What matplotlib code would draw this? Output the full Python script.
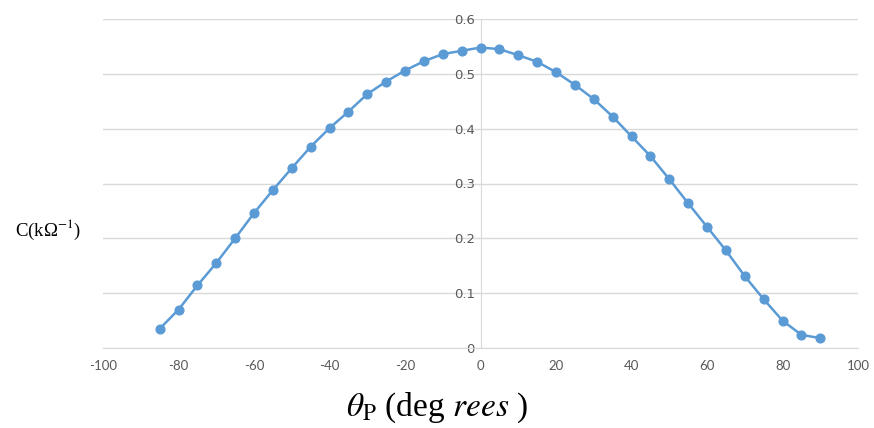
import matplotlib
matplotlib.use("Agg")
import matplotlib.pyplot as plt

# Conductance versus polarizer angle
theta = [-85, -80, -75, -70, -65, -60, -55, -50, -45, -40, -35, -30, -25, -20,
         -15, -10, -5, 0, 5, 10, 15, 20, 25, 30, 35, 40, 45, 50, 55, 60, 65,
         70, 75, 80, 85, 90]
conductance = [0.035, 0.070, 0.114, 0.155, 0.200, 0.246, 0.288, 0.328, 0.367,
               0.401, 0.431, 0.463, 0.486, 0.506, 0.523, 0.536, 0.542, 0.548,
               0.545, 0.534, 0.522, 0.503, 0.480, 0.454, 0.422, 0.386, 0.350,
               0.308, 0.264, 0.221, 0.178, 0.131, 0.089, 0.050, 0.024, 0.018]
x_ticks = [-100, -80, -60, -40, -20, 0, 20, 40, 60, 80, 100]
x_tick_labels = ["-100", "-80", "-60", "-40", "-20", "0", "20", "40", "60", "80", "100"]
y_ticks = [0, 0.1, 0.2, 0.3, 0.4, 0.5, 0.6]
y_tick_labels = ["0", "0.1", "0.2", "0.3", "0.4", "0.5", "0.6"]

plt.rcParams["mathtext.fontset"] = "stix"
plt.rcParams["axes.unicode_minus"] = False

fig = plt.figure(figsize=(8.74, 4.28), dpi=100)
ax = fig.add_axes([103 / 874, 80 / 428, 755 / 874, 329 / 428])

ax.plot(theta, conductance, color="#5B9BD5", linewidth=1.8, marker="o",
        markersize=6.3, zorder=3, clip_on=False)

ax.set_xlim(-100, 100)
ax.set_ylim(0, 0.6)
ax.set_xticks(x_ticks)
ax.set_xticklabels(x_tick_labels)
ax.set_yticks(y_ticks)
ax.set_yticklabels(y_tick_labels)
for lbl in ax.get_xticklabels() + ax.get_yticklabels():
    lbl.set_family("Lato")

ax.grid(axis="y", color="#d9d9d9", linewidth=1.0)
ax.set_axisbelow(True)

for side in ["top", "right"]:
    ax.spines[side].set_visible(False)
ax.spines["left"].set_position(("data", 0))
ax.spines["left"].set_color("#d9d9d9")
ax.spines["bottom"].set_color("#d9d9d9")
ax.tick_params(axis="both", length=0, labelsize=9.5, labelcolor="#595959")
ax.tick_params(axis="x", pad=9)
ax.tick_params(axis="y", pad=4)

fig.text(15 / 874, 0.462, "C(kΩ$^{-1}$)",
         fontsize=13.5, family="Liberation Serif", ha="left", va="center")
fig.text(437 / 874, 0.047, r"$\theta_{\mathrm{P}}$ (deg $\mathit{rees}$ )",
         fontsize=24, family="Liberation Serif", ha="center", va="center")

fig.savefig("out.png", dpi=100, facecolor="white")
